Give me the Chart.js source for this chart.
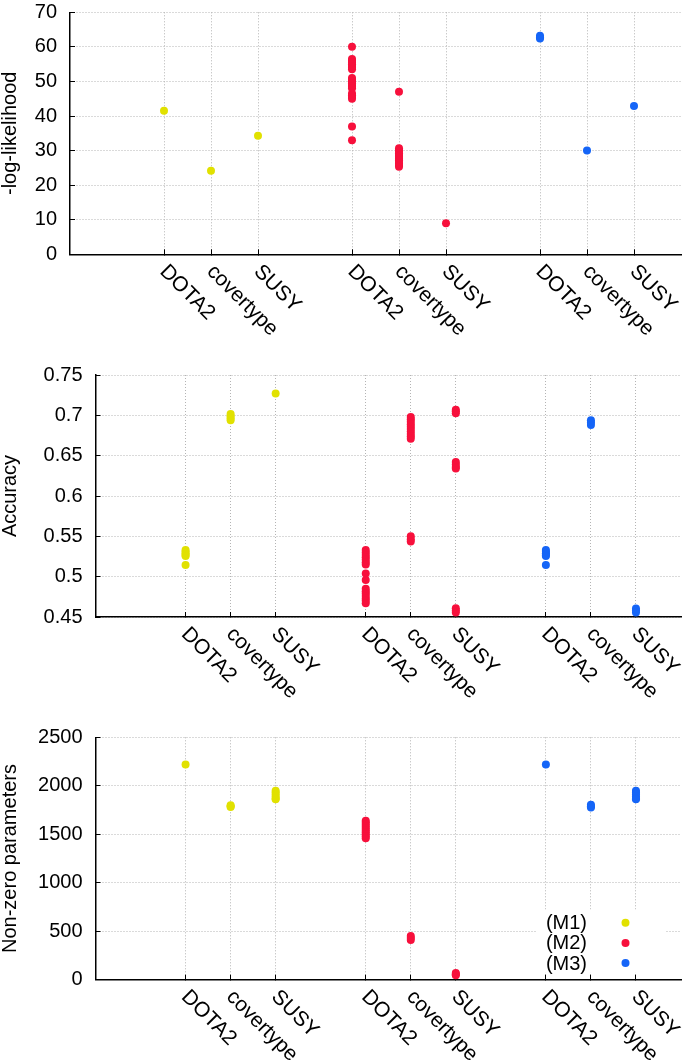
<!DOCTYPE html>
<html>
<head>
<meta charset="utf-8">
<script src="https://cdn.jsdelivr.net/npm/chart.js@4/dist/chart.umd.min.js"></script>
<style>
    html, body { margin: 0; padding: 0; background: #fff; }
    body { width: 685px; height: 1063px; position: relative; overflow: hidden; }
    .panel { position: absolute; left: 0; width: 685px; }
</style>
</head>
<body>
<div class="panel" style="top:0;height:345px"><canvas id="nllChart"></canvas></div>
<div class="panel" style="top:345px;height:360px"><canvas id="accChart"></canvas></div>
<div class="panel" style="top:705px;height:358px"><canvas id="nnzChart"></canvas></div>

<script>
// ─── Data ─────────────────────────────────────────────────────────────────
// one inner array per dataset (DOTA2, covertype, SUSY), one value per run

const CATEGORIES = ['DOTA2', 'covertype', 'SUSY'];
const MODELS = ['(M1)', '(M2)', '(M3)'];
const COLORS = ['#e1e100', '#f7103c', '#1565f7'];

// -log-likelihood
const nllM1 = [[41.5], [24.2], [34.3]];
const nllM2 = [
    [60, 56.5, 56, 55.5, 55, 54.5, 54, 53.5, 51, 50.5, 50, 49.5, 49, 48.5, 48, 46.5, 46, 45.5, 45, 37, 33],
    [47, 30.7, 30.2, 29.7, 29.2, 28.7, 28.2, 27.7, 27.2, 26.7, 26.2, 25.8, 25.3],
    [9]
];
const nllM3 = [[63.2, 62.8, 62.4], [30], [42.9]];
const nllTicks = [0, 10, 20, 30, 40, 50, 60, 70];

// Accuracy
const accM1 = [
    [0.533, 0.531, 0.529, 0.527, 0.5255, 0.5145],
    [0.7015, 0.699, 0.6965, 0.694],
    [0.727]
];
const accM2 = [
    [0.533, 0.530, 0.527, 0.524, 0.521, 0.518, 0.515, 0.504, 0.496, 0.485, 0.482, 0.479, 0.476, 0.473, 0.470, 0.467],
    [0.698, 0.695, 0.692, 0.689, 0.686, 0.683, 0.680, 0.677, 0.674, 0.671, 0.550, 0.5465, 0.5435],
    [0.707, 0.705, 0.7025, 0.642, 0.639, 0.636, 0.634, 0.461, 0.458, 0.4555]
];
const accM3 = [
    [0.533, 0.531, 0.529, 0.527, 0.5255, 0.5145],
    [0.694, 0.691, 0.688],
    [0.4605, 0.458, 0.4555]
];
const accTicks = [0.45, 0.5, 0.55, 0.6, 0.65, 0.7, 0.75];

// Non-zero parameters
const nnzM1 = [[2220], [1800, 1790, 1780], [1950, 1930, 1910, 1890, 1870, 1860]];
const nnzM2 = [
    [1640, 1620, 1600, 1580, 1560, 1540, 1520, 1500, 1480, 1460],
    [450, 430, 410],
    [70, 55, 45]
];
const nnzM3 = [[2220], [1805, 1790, 1775], [1950, 1930, 1910, 1890, 1870, 1860]];
const nnzTicks = [0, 500, 1000, 1500, 2000, 2500];

// ─── Helpers ──────────────────────────────────────────────────────────────

const FONT = "'Liberation Sans', Arial, Helvetica, sans-serif";
const GROUP_SIZE = CATEGORIES.length + 1;   // one empty slot between model groups
const X_MAX = GROUP_SIZE * MODELS.length + 1;

// x slot of dataset d inside model group m
function slot(m, d) {
    return 2 + m * GROUP_SIZE + d;
}

function allSlots() {
    const out = [];
    MODELS.forEach((_, m) => CATEGORIES.forEach((_, d) => out.push(slot(m, d))));
    return out;
}

function buildDatasets(seriesList) {
    return seriesList.map((series, m) => ({
        label: MODELS[m],
        data: series.flatMap((vals, d) => vals.map(v => ({ x: slot(m, d), y: v }))),
        backgroundColor: COLORS[m],
        borderWidth: 0,
        pointRadius: 4,
        pointHoverRadius: 4
    }));
}

// rotated dataset names under the x axis
const rotatedLabels = {
    id: 'rotatedLabels',
    afterDraw(chart) {
        const { ctx, chartArea } = chart;
        const xs = chart.scales.x;
        ctx.save();
        ctx.font = '21px ' + FONT;
        ctx.fillStyle = '#000';
        ctx.textAlign = 'left';
        ctx.textBaseline = 'middle';
        MODELS.forEach((_, m) => {
            CATEGORIES.forEach((name, d) => {
                ctx.save();
                ctx.translate(xs.getPixelForValue(slot(m, d)) - 1, chartArea.bottom + 14);
                ctx.rotate(Math.PI / 4);
                ctx.fillText(name, 0, 0);
                ctx.restore();
            });
        });
        ctx.restore();
    }
};

// key box in the lower right of the last panel
const keyBox = {
    id: 'keyBox',
    beforeDatasetsDraw(chart, args, opts) {
        if (!opts.show) return;
        const { ctx, chartArea } = chart;
        const right = chartArea.right;
        const bottom = chartArea.bottom;
        ctx.save();
        ctx.fillStyle = '#fff';
        ctx.fillRect(right - 145, bottom - 70, 130, 63);
        ctx.font = '20px ' + FONT;
        ctx.textAlign = 'right';
        ctx.textBaseline = 'middle';
        MODELS.forEach((name, m) => {
            const y = bottom - 57 + m * 20.2;
            ctx.fillStyle = '#000';
            ctx.fillText(name, right - 94, y + 1);
            ctx.fillStyle = COLORS[m];
            ctx.beginPath();
            ctx.arc(right - 55.5, y, 4, 0, Math.PI * 2);
            ctx.fill();
        });
        ctx.restore();
    }
};

function makeChart(id, cfg) {
    const ctx = document.getElementById(id).getContext('2d');
    const ticks = cfg.ticks;
    return new Chart(ctx, {
        type: 'scatter',
        data: { datasets: buildDatasets(cfg.series) },
        plugins: [rotatedLabels, keyBox],
        options: {
            responsive: true,
            maintainAspectRatio: false,
            animation: false,
            devicePixelRatio: 1,
            layout: { padding: { top: cfg.top, left: 0, right: 0, bottom: 0 } },
            plugins: {
                legend: { display: false },
                tooltip: { enabled: false },
                keyBox: { show: !!cfg.key }
            },
            scales: {
                x: {
                    type: 'linear',
                    min: 0,
                    max: X_MAX,
                    afterBuildTicks: (scale) => {
                        scale.ticks = allSlots().map(v => ({ value: v }));
                    },
                    afterFit: (scale) => { scale.height = cfg.xHeight; },
                    ticks: { display: false },
                    grid: {
                        color: '#b4b4b4',
                        lineWidth: 1,
                        drawTicks: true,
                        tickLength: -5,
                        tickColor: '#000',
                        tickWidth: 1
                    },
                    border: { display: true, color: '#000', width: 1.5, dash: [1, 2] }
                },
                y: {
                    min: ticks[0],
                    max: ticks[ticks.length - 1],
                    afterBuildTicks: (scale) => {
                        scale.ticks = ticks.map(v => ({ value: v }));
                    },
                    afterFit: (scale) => {
                        scale.width = cfg.axisWidth;
                        // the tick padding would otherwise push the plot top down
                        scale.paddingTop = 0;
                        scale.paddingBottom = 0;
                    },
                    ticks: {
                        color: '#000',
                        font: { family: FONT, size: 20 },
                        padding: 18,
                        callback: (val) => String(val)
                    },
                    grid: {
                        color: '#b4b4b4',
                        lineWidth: 1,
                        drawTicks: true,
                        tickLength: -5,
                        tickColor: '#000',
                        tickWidth: 1
                    },
                    border: { display: true, color: '#000', width: 1.5, dash: [1, 2] },
                    title: {
                        display: true,
                        text: cfg.title,
                        color: '#000',
                        font: { family: FONT, size: 20, lineHeight: 1 },
                        padding: 0
                    }
                }
            }
        }
    });
}

// ─── Charts ───────────────────────────────────────────────────────────────

makeChart('nllChart', {
    series: [nllM1, nllM2, nllM3],
    ticks: nllTicks,
    title: '-log-likelihood',
    axisWidth: 70,
    top: 12.3,
    xHeight: 90.7
});

makeChart('accChart', {
    series: [accM1, accM2, accM3],
    ticks: accTicks,
    title: 'Accuracy',
    axisWidth: 95.5,
    top: 30,
    xHeight: 88
});

makeChart('nnzChart', {
    series: [nnzM1, nnzM2, nnzM3],
    ticks: nnzTicks,
    title: 'Non-zero parameters',
    axisWidth: 95.5,
    top: 32.3,
    xHeight: 83.3,
    key: true
});
</script>
</body>
</html>
